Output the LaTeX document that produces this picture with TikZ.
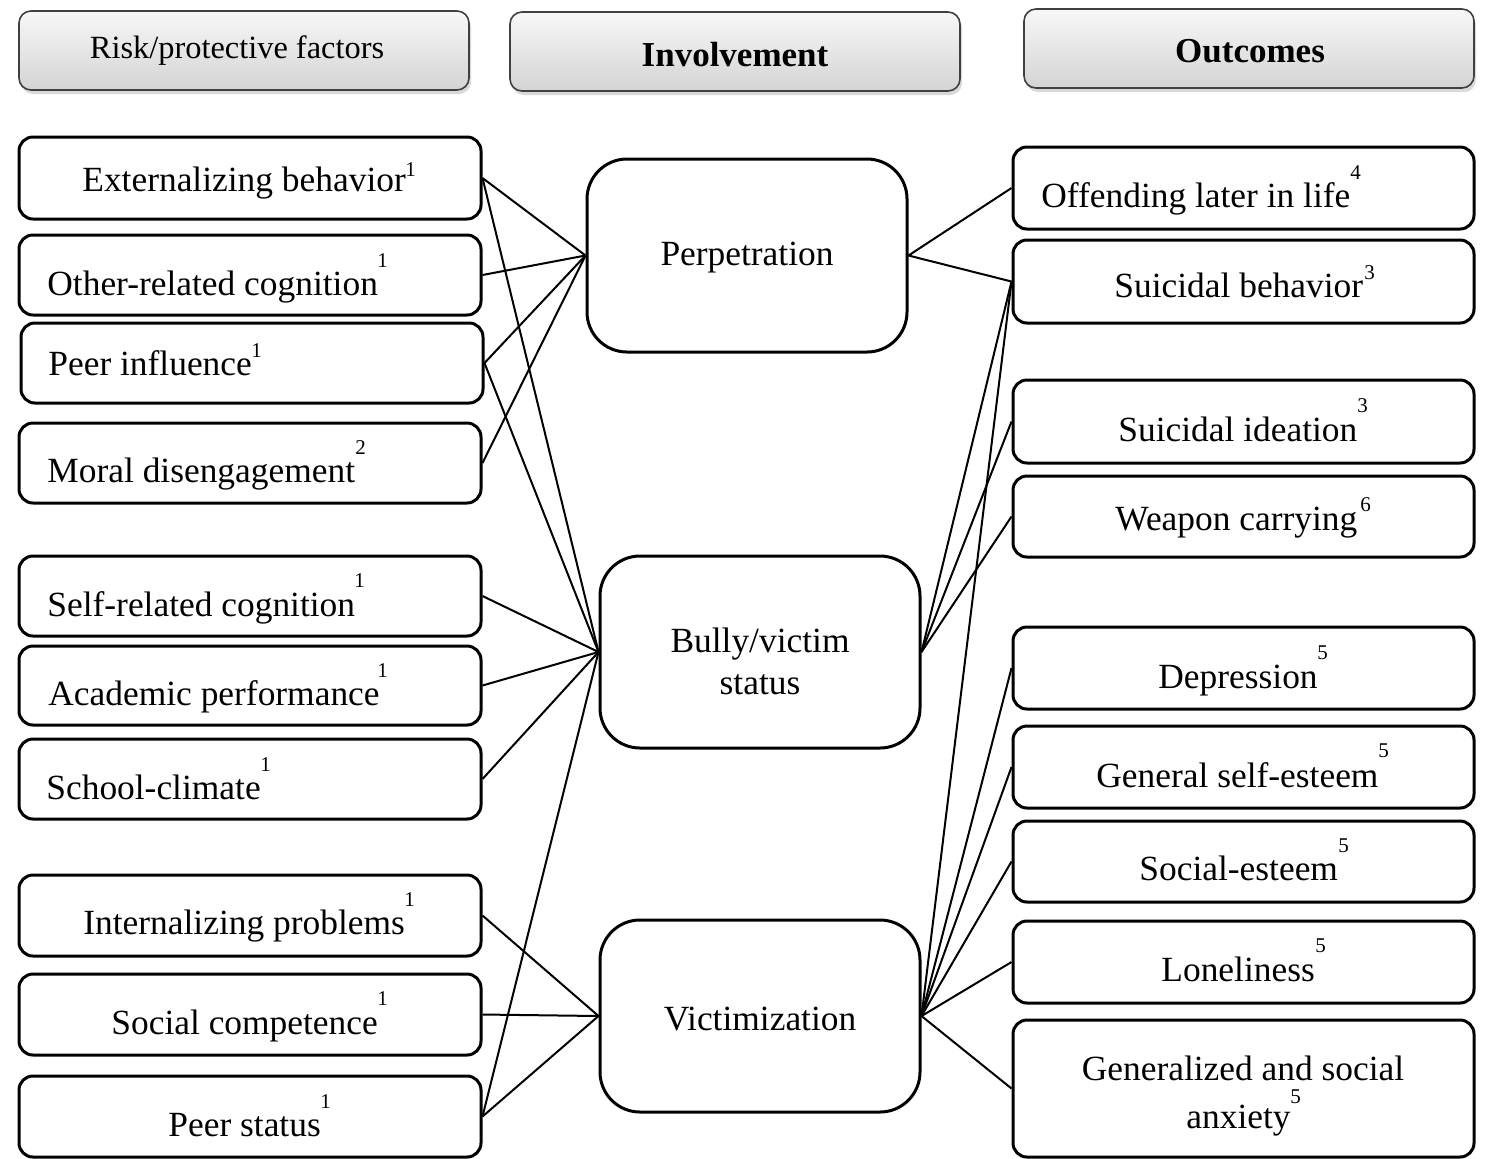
\documentclass[tikz,border=0pt]{standalone}
\usepackage{fontspec}
\setmainfont{Liberation Serif}
\usetikzlibrary{fit,shadows}
\begin{document}
\begin{tikzpicture}[x=0.5pt,y=-0.5pt,
 hbox/.style={draw=black!75, line width=0.8pt, rounded corners=6pt, top color=white!97!black, bottom color=black!17, drop shadow={shadow xshift=1pt,shadow yshift=-2pt,opacity=0.3}, inner sep=0pt},
 lbox/.style={draw, line width=1.5pt, rounded corners=7pt, inner sep=0pt},
 mbox/.style={draw, line width=1.5pt, rounded corners=20pt, inner sep=0pt},
 txt/.style={anchor=base west, inner sep=0pt, font=\fontsize{17.7}{21}\selectfont},
 ctxt/.style={anchor=base, inner sep=0pt, font=\fontsize{17.7}{21}\selectfont},
 sp/.style={anchor=north west, inner sep=0pt, font=\fontsize{10.5}{13}\selectfont},
 link/.style={line width=1pt}
]
\useasboundingbox (0,0) rectangle (1486,1158);
% headers
\node[hbox, fit={(19,11)(469,90)}] (h1) {};
\node[hbox, fit={(510,12)(960,91)}] (h2) {};
\node[hbox, fit={(1024,9)(1474,88)}] (h3) {};
\node[anchor=base, inner sep=0pt, font=\fontsize{16.2}{19}\selectfont] (h1t) at (237,58) {Risk/protective factors};
\node[anchor=base, inner sep=0pt, font=\fontsize{17.5}{21}\selectfont\bfseries] (h2t) at (735,66) {Involvement};
\node[anchor=base, inner sep=0pt, font=\fontsize{17.5}{21}\selectfont\bfseries] (h3t) at (1250,62) {Outcomes};
% left boxes
\node[lbox, fit={(19,137)(481,219)}] (ext) {};
\node[lbox, fit={(19,235)(481,315)}] (oth) {};
\node[lbox, fit={(21,323)(483,403)}] (pin) {};
\node[lbox, fit={(19,423)(481,503)}] (mor) {};
\node[lbox, fit={(19,556)(481,636)}] (sel) {};
\node[lbox, fit={(19,646)(481,725)}] (aca) {};
\node[lbox, fit={(19,739)(481,819)}] (sch) {};
\node[lbox, fit={(19,875)(481,956)}] (int) {};
\node[lbox, fit={(19,974)(481,1055)}] (soc) {};
\node[lbox, fit={(19,1076)(481,1157)}] (pst) {};
% middle boxes
\node[mbox, fit={(587,159)(907,352)}] (perp) {};
\node[mbox, fit={(600,556)(920,748)}] (bv) {};
\node[mbox, fit={(600,920)(920,1112)}] (vic) {};
% right boxes
\node[lbox, fit={(1013,147)(1474,229)}] (off) {};
\node[lbox, fit={(1013,240)(1474,323)}] (sbe) {};
\node[lbox, fit={(1013,380)(1474,463)}] (sid) {};
\node[lbox, fit={(1013,476)(1474,557)}] (wea) {};
\node[lbox, fit={(1013,627)(1474,709)}] (dep) {};
\node[lbox, fit={(1013,726)(1474,808)}] (gse) {};
\node[lbox, fit={(1013,821)(1474,902)}] (ses) {};
\node[lbox, fit={(1013,921)(1474,1003)}] (lon) {};
\node[lbox, fit={(1013,1020)(1474,1157)}] (anx) {};
% left texts
\node[txt] (t1) at (82,191) {Externalizing behavior};
\node[sp] (s1) at (405,162) {1};
\node[txt] (t2) at (47,295) {Other-related cognition};
\node[sp] (s2) at (377,253) {1};
\node[txt] (t3) at (48,375) {Peer influence};
\node[sp] (s3) at (251,343) {1};
\node[txt] (t4) at (47,482) {Moral disengagement};
\node[sp] (s4) at (355,440) {2};
\node[txt] (t5) at (47,616) {Self-related cognition};
\node[sp] (s5) at (354,573) {1};
\node[txt] (t6) at (48,705) {Academic performance};
\node[sp] (s6) at (377,663) {1};
\node[txt] (t7) at (46,799) {School-climate};
\node[sp] (s7) at (260,757) {1};
\node[txt] (t8) at (83,934) {Internalizing problems};
\node[sp] (s8) at (404,892) {1};
\node[txt] (t9) at (111,1034) {Social competence};
\node[sp] (s9) at (377,991) {1};
\node[txt] (t10) at (168,1136) {Peer status};
\node[sp] (s10) at (320,1094) {1};
% middle texts
\node[ctxt] (mt1) at (747,265) {Perpetration};
\node[ctxt] (mt2) at (760,652) {Bully/victim};
\node[ctxt] (mt3) at (760,694) {status};
\node[ctxt] (mt4) at (760,1030) {Victimization};
% right texts
\node[txt] (r1) at (1041,207) {Offending later in life};
\node[sp] (rs1) at (1350,165) {4};
\node[txt] (r2) at (1114,297) {Suicidal behavior};
\node[sp] (rs2) at (1364,265) {3};
\node[txt] (r3) at (1118,441) {Suicidal ideation};
\node[sp] (rs3) at (1357,398) {3};
\node[txt] (r4) at (1115,530) {Weapon carrying};
\node[sp] (rs4) at (1360,497) {6};
\node[txt] (r5) at (1158,688) {Depression};
\node[sp] (rs5) at (1317,645) {5};
\node[txt] (r6) at (1096,787) {General self-esteem};
\node[sp] (rs6) at (1378,743) {5};
\node[txt] (r7) at (1139,880) {Social-esteem};
\node[sp] (rs7) at (1338,838) {5};
\node[txt] (r8) at (1161,981) {Loneliness};
\node[sp] (rs8) at (1315,938) {5};
\node[ctxt] (r9) at (1243,1080) {Generalized and social};
\node[txt] (r9b) at (1186,1128) {anxiety};
\node[sp] (rs9) at (1290,1089) {5};
% connectors left
\draw[link] (ext.east) -- (perp.west);
\draw[link] (ext.east) -- (bv.west);
\draw[link] (oth.east) -- (perp.west);
\draw[link] (pin.east) -- (perp.west);
\draw[link] (pin.east) -- (bv.west);
\draw[link] (mor.east) -- (perp.west);
\draw[link] (sel.east) -- (bv.west);
\draw[link] (aca.east) -- (bv.west);
\draw[link] (sch.east) -- (bv.west);
\draw[link] (pst.east) -- (bv.west);
\draw[link] (int.east) -- (vic.west);
\draw[link] (soc.east) -- (vic.west);
\draw[link] (pst.east) -- (vic.west);
% connectors right
\draw[link] (perp.east) -- (off.west);
\draw[link] (perp.east) -- (sbe.west);
\draw[link] (bv.east) -- (sbe.west);
\draw[link] (bv.east) -- (sid.west);
\draw[link] (bv.east) -- (wea.west);
\draw[link] (vic.east) -- (sbe.west);
\draw[link] (vic.east) -- (dep.west);
\draw[link] (vic.east) -- (gse.west);
\draw[link] (vic.east) -- (ses.west);
\draw[link] (vic.east) -- (lon.west);
\draw[link] (vic.east) -- (anx.west);
\end{tikzpicture}
\end{document}
